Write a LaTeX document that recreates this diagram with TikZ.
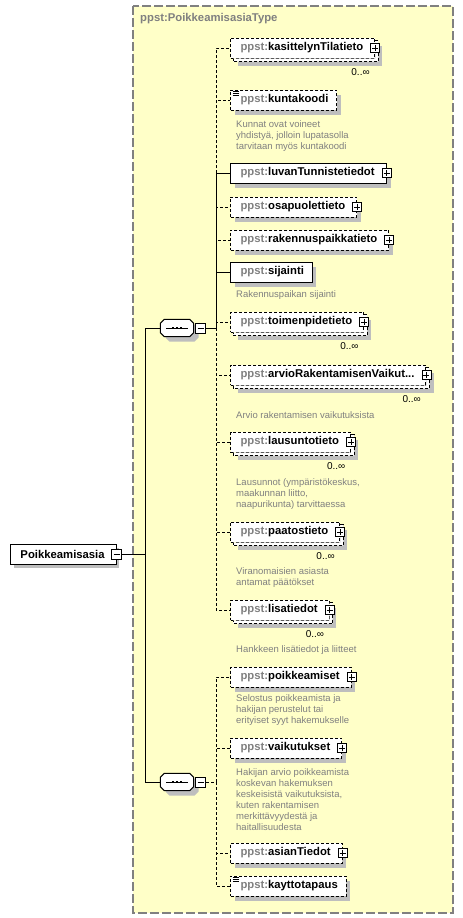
\documentclass[tikz,border=0pt]{standalone}
\usepackage{fontspec}
\setmainfont{Liberation Sans}
\usetikzlibrary{shapes}
\definecolor{typeyellow}{RGB}{255,255,200}
\definecolor{framegray}{RGB}{128,128,128}
\definecolor{shadowgray}{RGB}{190,190,190}
\definecolor{prefixgray}{RGB}{128,128,128}
\definecolor{notegray}{RGB}{128,128,128}
\newcommand{\elemfont}{\fontsize{11.3}{13}\selectfont\bfseries}
\newcommand{\notefont}{\fontsize{9.5}{10.9}\selectfont}
\newcommand{\pp}{\textcolor{prefixgray}{ppst:}}
% octagon round a sequence node
\newcommand{\octagon}[1]{([xshift=4pt]#1.north west) -- ([xshift=-4pt]#1.north east)
  -- ([yshift=-4pt]#1.north east) -- ([yshift=4pt]#1.south east)
  -- ([xshift=-4pt]#1.south east) -- ([xshift=4pt]#1.south west)
  -- ([yshift=4pt]#1.south west) -- ([yshift=-4pt]#1.north west) -- cycle}
% shadow under a box: left, middle y, right, offset
\newcommand{\shadowat}[4]{\fill[boxshade] (#1+#4,#2-10+#4) rectangle (#3+#4,#2+10+#4);}
% part of a box moved by #2 that lies right of and below the box #1
\newcommand{\outside}[2]{([yshift=-#2]#1.north east) -- ([xshift=#2,yshift=-#2]#1.north east)
  -- ([xshift=#2,yshift=-#2]#1.south east) -- ([xshift=#2,yshift=-#2]#1.south west)
  -- ([xshift=#2]#1.south west) -- (#1.south east) -- cycle}
% second box behind a box that may repeat
\newcommand{\stackof}[1]{\fill[white] \outside{#1}{3pt};
  \draw[backline] ([yshift=-3pt]#1.north east) -- ++(3pt,0pt) |- ([xshift=3pt,yshift=-3pt]#1.south west) -- ++(0pt,3pt);}

\begin{document}
\begin{tikzpicture}[x=1pt,y=-1pt]

\tikzstyle{typebox} = [draw=framegray, fill=typeyellow, line width=1.3,
    dash pattern=on 9pt off 3pt]
\tikzstyle{title} = [font=\elemfont, text=prefixgray, anchor=west, inner sep=0]
\tikzstyle{elem} = [draw=black, fill=white, line width=1, minimum height=20,
    inner xsep=8.5, inner ysep=0, anchor=west, font=\elemfont,
    execute at begin node=\hspace*{1.5pt}]
\tikzstyle{opt} = [elem, dash pattern=on 3pt off 2pt]
\tikzstyle{multi} = [opt]
\tikzstyle{plus} = [execute at end node=\hspace*{3pt}]
\tikzstyle{simple} = [path picture={
    \draw[solid, line width=0.8] ([xshift=2pt,yshift=-1.5pt]path picture bounding box.north west) -- ++(6pt,0pt)
      ([xshift=2pt,yshift=-3.5pt]path picture bounding box.north west) -- ++(6pt,0pt)
      ([xshift=2pt,yshift=-5.5pt]path picture bounding box.north west) -- ++(6pt,0pt);}]
\tikzstyle{plusbox} = [draw=black, fill=white, solid, line width=0.8, minimum size=9, inner sep=0,
    path picture={
    \draw[line width=0.8] ([xshift=-3pt]path picture bounding box.center) -- ([xshift=3pt]path picture bounding box.center)
      ([yshift=-3pt]path picture bounding box.center) -- ([yshift=3pt]path picture bounding box.center);}]
\tikzstyle{minusbox} = [draw=black, fill=white, line width=0.8, minimum size=10, inner sep=0,
    path picture={
    \draw[line width=0.8] ([xshift=-3pt]path picture bounding box.center) -- ([xshift=3pt]path picture bounding box.center);}]
\tikzstyle{seq} = [minimum width=33, minimum height=17, inner sep=0]
\tikzstyle{seqframe} = [draw=black, fill=white, line width=1]
\tikzstyle{boxshade} = [fill=shadowgray]
\tikzstyle{backline} = [draw=black, line width=1, dash pattern=on 3pt off 2pt]
\tikzstyle{note} = [font=\notefont, text=notegray, align=left, inner sep=0, anchor=north west]
\tikzstyle{card} = [font=\fontsize{10}{12}\selectfont, inner sep=0, anchor=east]
\tikzstyle{link} = [draw=black, line width=1]
\tikzstyle{optlink} = [link, dash pattern=on 3pt off 2pt]

\useasboundingbox (0,0) rectangle (463,918);

% =========================
% complex type frame
% =========================
\draw[typebox] (133,6) rectangle (453,913);
\node[title] (ptype-t) at (140,19) {ppst:PoikkeamisasiaType};

% =========================
% root element and sequences
% =========================
\shadowat{10}{554}{115.2}{4}
\node[elem, plus] (root) at (10,554) {Poikkeamisasia};
\node[minusbox] (root-m) at (root.east) {};

\fill[boxshade] (169.5,324.5) -- ++(25,0) -- ++(4,4) -- ++(0,9) -- ++(-4,4) -- ++(-25,0) -- ++(-4,-4) -- ++(0,-9) -- cycle;
\node[seq] (seq1) at (177,328) {};
\draw[seqframe] \octagon{seq1};
\draw[line width=1] ([xshift=-11pt]seq1.center) -- ([xshift=11pt]seq1.center);
\fill ([xshift=-4pt]seq1.center) +(-1.3pt,-1.3pt) rectangle +(1.3pt,1.3pt);
\fill (seq1.center) +(-1.3pt,-1.3pt) rectangle +(1.3pt,1.3pt);
\fill ([xshift=4pt]seq1.center) +(-1.3pt,-1.3pt) rectangle +(1.3pt,1.3pt);
\node[minusbox, anchor=west] (seq1-m) at ([xshift=1.5pt]seq1.east) {};

\fill[boxshade] (169.5,778.5) -- ++(25,0) -- ++(4,4) -- ++(0,9) -- ++(-4,4) -- ++(-25,0) -- ++(-4,-4) -- ++(0,-9) -- cycle;
\node[seq] (seq2) at (177,782) {};
\draw[seqframe] \octagon{seq2};
\draw[line width=1] ([xshift=-11pt]seq2.center) -- ([xshift=11pt]seq2.center);
\fill ([xshift=-4pt]seq2.center) +(-1.3pt,-1.3pt) rectangle +(1.3pt,1.3pt);
\fill (seq2.center) +(-1.3pt,-1.3pt) rectangle +(1.3pt,1.3pt);
\fill ([xshift=4pt]seq2.center) +(-1.3pt,-1.3pt) rectangle +(1.3pt,1.3pt);
\node[minusbox, anchor=west] (seq2-m) at ([xshift=1.5pt]seq2.east) {};

% =========================
% first sequence
% =========================
\shadowat{230}{48}{374.1}{8}
\node[multi, plus] (kasittelyn) at (230,48) {\pp kasittelynTilatieto};
\stackof{kasittelyn}
\node[plusbox] (kasittelyn-p) at (kasittelyn.east) {};
\node[card] (kasittelyn-c) at ([xshift=-5.5pt,yshift=-24pt]kasittelyn.east) {0..∞};

\shadowat{230}{100}{335.9}{5}
\node[opt, simple] (kuntakoodi) at (230,100) {\pp kuntakoodi};
\node[note] (kuntakoodi-n) at (236,120.5) {Kunnat ovat voineet\\yhdistyä, jolloin lupatasolla\\tarvitaan myös kuntakoodi};

\shadowat{230}{173}{386.0}{5}
\node[elem, plus] (luvan) at (230,173) {\pp luvanTunnistetiedot};
\node[plusbox] (luvan-p) at (luvan.east) {};

\shadowat{230}{207}{355.8}{5}
\node[opt, plus] (osapuolet) at (230,207) {\pp osapuolettieto};
\node[plusbox] (osapuolet-p) at (osapuolet.east) {};

\shadowat{230}{240}{387.9}{5}
\node[opt, plus] (rakennus) at (230,240) {\pp rakennuspaikkatieto};
\node[plusbox] (rakennus-p) at (rakennus.east) {};

\shadowat{230}{272}{311.4}{5}
\node[elem] (sijainti) at (230,272) {\pp sijainti};
\node[note] (sijainti-n) at (236,290.5) {Rakennuspaikan sijainti};

\shadowat{230}{322}{362.7}{8}
\node[multi, plus] (toimenpide) at (230,322) {\pp toimenpidetieto};
\stackof{toimenpide}
\node[plusbox] (toimenpide-p) at (toimenpide.east) {};
\node[card] (toimenpide-c) at ([xshift=-5.5pt,yshift=-24pt]toimenpide.east) {0..∞};

\shadowat{230}{375}{425.6}{8}
\node[multi, plus] (arvio) at (230,375) {\pp arvioRakentamisenVaikut...};
\stackof{arvio}
\node[plusbox] (arvio-p) at (arvio.east) {};
\node[card] (arvio-c) at ([xshift=-5.5pt,yshift=-24pt]arvio.east) {0..∞};
\node[note] (arvio-n) at (236,411.5) {Arvio rakentamisen vaikutuksista};

\shadowat{230}{442}{349.6}{8}
\node[multi, plus] (lausunto) at (230,442) {\pp lausuntotieto};
\stackof{lausunto}
\node[plusbox] (lausunto-p) at (lausunto.east) {};
\node[card] (lausunto-c) at ([xshift=-5.5pt,yshift=-24pt]lausunto.east) {0..∞};
\node[note] (lausunto-n) at (236,478.5) {Lausunnot (ympäristökeskus,\\maakunnan liitto,\\naapurikunta) tarvittaessa};

\shadowat{230}{532}{338.9}{8}
\node[multi, plus] (paatos) at (230,532) {\pp paatostieto};
\stackof{paatos}
\node[plusbox] (paatos-p) at (paatos.east) {};
\node[card] (paatos-c) at ([xshift=-5.5pt,yshift=-24pt]paatos.east) {0..∞};
\node[note] (paatos-n) at (236,567.5) {Viranomaisien asiasta\\antamat päätökset};

\shadowat{230}{610}{328.2}{8}
\node[multi, plus] (lisatiedot) at (230,610) {\pp lisatiedot};
\stackof{lisatiedot}
\node[plusbox] (lisatiedot-p) at (lisatiedot.east) {};
\node[card] (lisatiedot-c) at ([xshift=-5.5pt,yshift=-24pt]lisatiedot.east) {0..∞};
\node[note] (lisatiedot-n) at (236,645.5) {Hankkeen lisätiedot ja liitteet};

% =========================
% second sequence
% =========================
\shadowat{230}{677}{350.2}{5}
\node[opt, plus] (poikkeamiset) at (230,677) {\pp poikkeamiset};
\node[plusbox] (poikkeamiset-p) at (poikkeamiset.east) {};
\node[note] (poikkeamiset-n) at (236,694.5) {Selostus poikkeamista ja\\hakijan perustelut tai\\erityiset syyt hakemukselle};

\shadowat{230}{748}{340.8}{5}
\node[opt, plus] (vaikutukset) at (230,748) {\pp vaikutukset};
\node[plusbox] (vaikutukset-p) at (vaikutukset.east) {};
\node[note] (vaikutukset-n) at (236,768.5) {Hakijan arvio poikkeamista\\koskevan hakemuksen\\keskeisistä vaikutuksista,\\kuten rakentamisen\\merkittävyydestä ja\\haitallisuudesta};

\shadowat{230}{853}{341.4}{5}
\node[opt, plus] (asian) at (230,853) {\pp asianTiedot};
\node[plusbox] (asian-p) at (asian.east) {};

\shadowat{230}{886}{345.3}{5}
\node[opt, simple] (kaytto) at (230,886) {\pp kayttotapaus};

% =========================
% connectors
% =========================
\coordinate (root-v) at ([xshift=23.5pt]root-m.east);
\draw[link] (root-m.east) -- (root-v) |- (seq1.west);
\draw[link] (root-m.east) -- (root-v) |- (seq2.west);

\coordinate (seq1-v) at ([xshift=10pt]seq1-m.east);
\draw[optlink] (seq1-m.east) -- (seq1-v) |- (kasittelyn.west);
\draw[optlink] (seq1-m.east) -- (seq1-v) |- (kuntakoodi.west);
\draw[optlink] (seq1-m.east) -- (seq1-v) |- (osapuolet.west);
\draw[optlink] (seq1-m.east) -- (seq1-v) |- (rakennus.west);
\draw[optlink] (seq1-m.east) -- (seq1-v) |- (toimenpide.west);
\draw[optlink] (seq1-m.east) -- (seq1-v) |- (arvio.west);
\draw[optlink] (seq1-m.east) -- (seq1-v) |- (lausunto.west);
\draw[optlink] (seq1-m.east) -- (seq1-v) |- (paatos.west);
\draw[optlink] (seq1-m.east) -- (seq1-v) |- (lisatiedot.west);
\draw[link] (seq1-m.east) -- (seq1-v) |- (luvan.west);
\draw[link] (seq1-m.east) -- (seq1-v) |- (sijainti.west);

\coordinate (seq2-v) at ([xshift=10pt]seq2-m.east);
\draw[optlink] (seq2-m.east) -- (seq2-v) |- (poikkeamiset.west);
\draw[optlink] (seq2-m.east) -- (seq2-v) |- (vaikutukset.west);
\draw[optlink] (seq2-m.east) -- (seq2-v) |- (asian.west);
\draw[optlink] (seq2-m.east) -- (seq2-v) |- (kaytto.west);

\end{tikzpicture}
\end{document}
